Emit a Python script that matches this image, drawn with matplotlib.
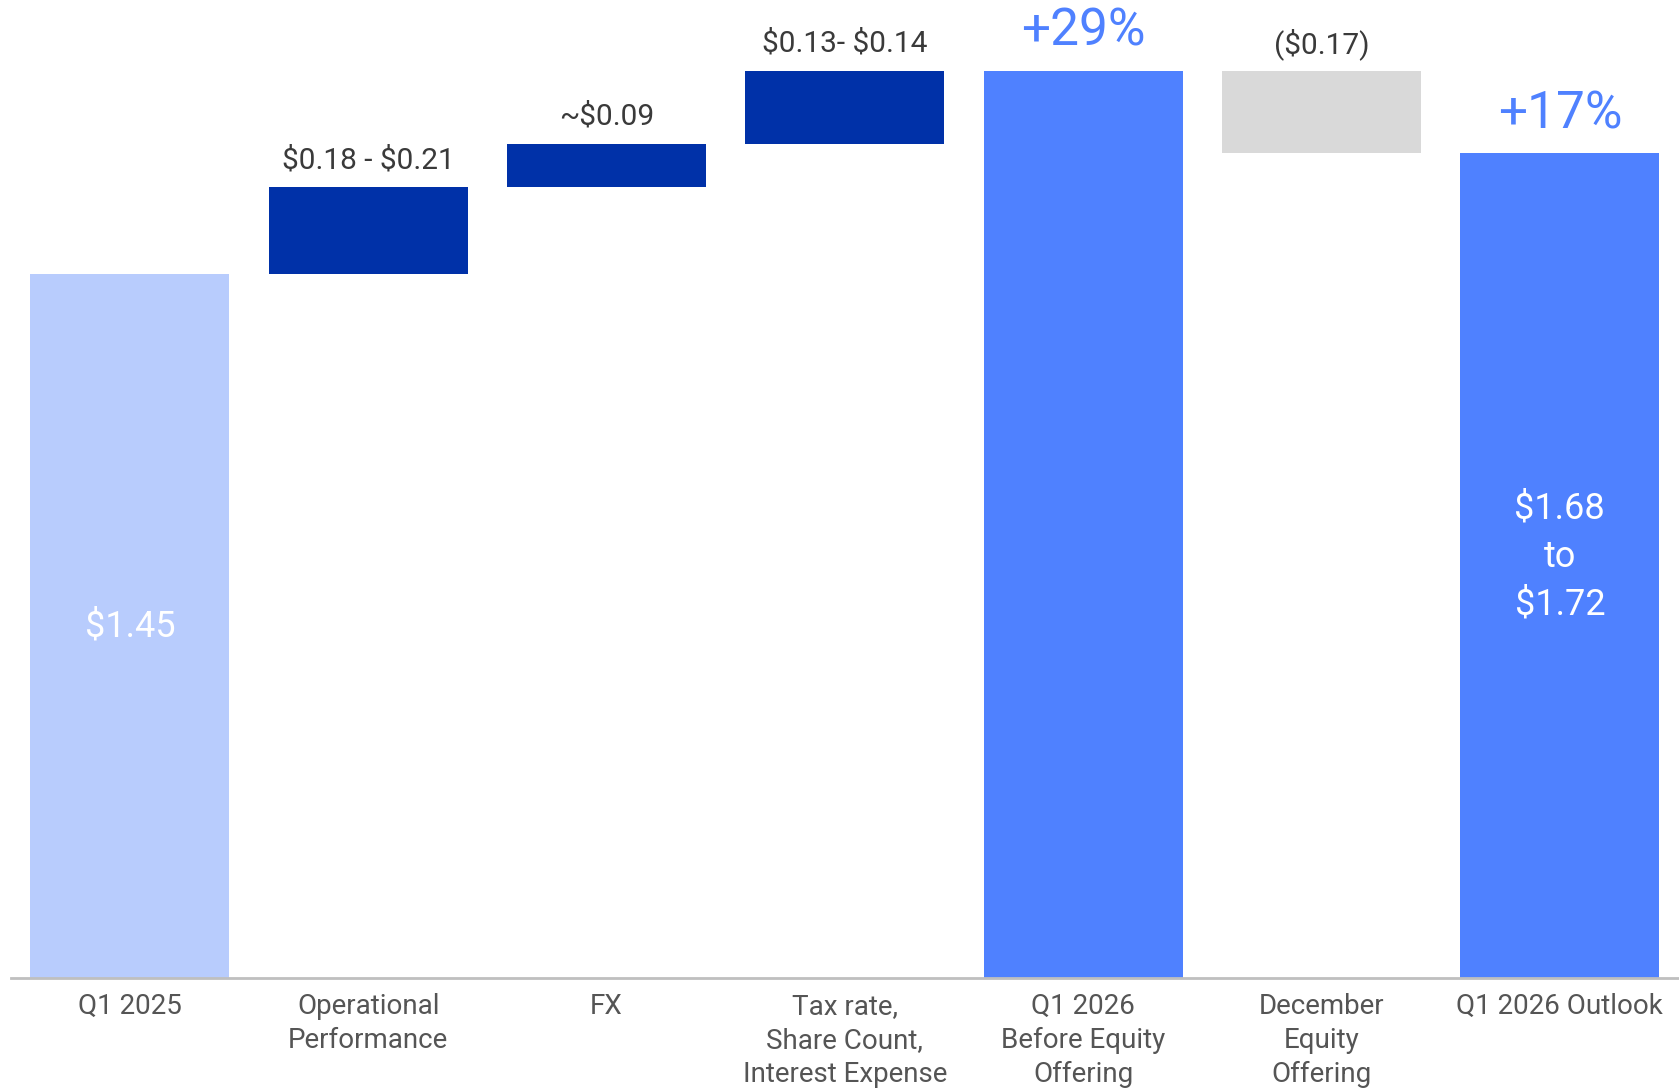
import matplotlib
matplotlib.use("Agg")
import matplotlib.pyplot as plt
import numpy as np

plt.rcParams['font.family'] = ['Roboto', 'DejaVu Sans']

categories = ["Q1 2025", "Operational\nPerformance", "FX",
              "Tax rate,\nShare Count,\nInterest Expense",
              "Q1 2026\nBefore Equity\nOffering", "December\nEquity\nOffering",
              "Q1 2026 Outlook"]
# kind: 'start', 'delta', 'total'
kinds = ["start", "delta", "delta", "delta", "total", "delta", "total"]
values = [1.45, 0.18, 0.09, 0.15, None, -0.17, None]
top_labels = ["", "$0.18 - $0.21", "~$0.09", "$0.13- $0.14", "+29%", "($0.17)", "+17%"]
inside_labels = ["$1.45", "", "", "", "", "", "$1.68\nto\n$1.72"]

C_LIGHT = "#B8CCFD"
C_DARK = "#0031A8"
C_MID = "#4F81FF"
C_GRAY = "#D9D9D9"

fig = plt.figure(figsize=(16.79, 10.89), dpi=100)
ax = fig.add_axes([0.0064, 0.1022, 0.9936, 0.8978])

running = 0.0
bottoms, heights, colors = [], [], []
for k, v in zip(kinds, values):
    if k == "start":
        bottoms.append(0); heights.append(v); running = v; colors.append(C_LIGHT)
    elif k == "total":
        bottoms.append(0); heights.append(running); colors.append(C_MID)
    else:
        if v >= 0:
            bottoms.append(running); heights.append(v); colors.append(C_DARK)
        else:
            bottoms.append(running + v); heights.append(-v); colors.append(C_GRAY)
        running += v

x = np.arange(len(categories))
ax.bar(x, heights, bottom=bottoms, width=0.835, color=colors, zorder=2)

tops = [b + h for b, h in zip(bottoms, heights)]
for i, lab in enumerate(top_labels):
    if not lab:
        continue
    if lab.startswith("+"):
        ax.annotate(lab, (x[i], tops[i]), xytext=(0, 28), textcoords="offset points",
                    ha="center", va="center", fontsize=37, color=C_MID, parse_math=False)
    else:
        ax.annotate(lab, (x[i], tops[i]), xytext=(0, 19.5), textcoords="offset points",
                    ha="center", va="center", fontsize=21.5, color="#3A3A3A",
                    parse_math=False)

for i, lab in enumerate(inside_labels):
    if not lab:
        continue
    yc = 0.725 if i == 0 else 0.868
    ax.text(x[i], yc, lab, ha="center", va="center", fontsize=26, color="white",
            linespacing=1.42, parse_math=False)

ax.set_xlim(-0.5, 6.5)
ax.set_ylim(0, 2.016)
ax.set_xticks(x)
ax.set_xticklabels(categories, fontsize=20, color="#555555", linespacing=1.33, va="top")
ax.tick_params(axis="x", length=0, pad=11)
ax.set_yticks([])
for s in ["top", "right", "left"]:
    ax.spines[s].set_visible(False)
ax.spines["bottom"].set_color("#BFBFBF")
ax.spines["bottom"].set_linewidth(2)

fig.savefig("out.png", dpi=100)
